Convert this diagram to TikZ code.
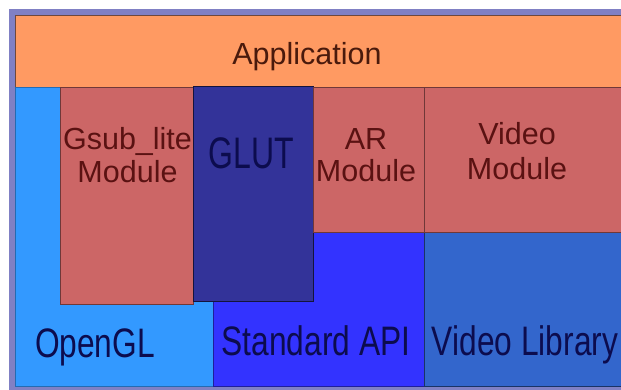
\documentclass[tikz,border=0pt]{standalone}
\usepackage{fontspec}
\setmainfont{Liberation Sans}
\definecolor{framec}{HTML}{8080C4}
\definecolor{appc}{HTML}{FF9A62}
\definecolor{oglc}{HTML}{3399FF}
\definecolor{modc}{HTML}{CC6666}
\definecolor{glutc}{HTML}{333399}
\definecolor{stdc}{HTML}{3333FF}
\definecolor{vlibc}{HTML}{3366CC}
\definecolor{modtxt}{HTML}{5A1212}
\definecolor{bluetxt}{HTML}{0C0C4E}
\definecolor{apptxt}{HTML}{4A1A0C}
\tikzset{
  block/.style={anchor=north west, inner sep=0pt, outer sep=0pt, draw=#1, line width=0.7pt},
  modlabel/.style={anchor=base, inner sep=0pt, text=modtxt, font=\fontsize{30.5}{33}\selectfont},
  bluelabel/.style={anchor=base, inner sep=0pt, text=bluetxt, font=\fontsize{31.7}{34}\selectfont},
}
\begin{document}
\begin{tikzpicture}[x=1pt,y=-1pt]
\useasboundingbox (0,0) rectangle (621,390);
% frame
\node[block=framec, fill=framec, minimum width=612pt, minimum height=381pt] (frame) at (9,9) {};
% application
\node[block=apptxt!80, fill=appc, minimum width=606pt, minimum height=72pt, line width=0.9pt] (app) at (15,15) {};
% lower layers
\node[block=oglc!70!black, fill=oglc, minimum width=198pt, minimum height=299pt] (ogl) at (15,87) {};
\node[block=stdc!60!black, fill=stdc, minimum width=211pt, minimum height=154pt] (std) at (213,232) {};
\node[block=vlibc!50!black, fill=vlibc, minimum width=197pt, minimum height=154pt] (vlib) at (424,232) {};
% modules
\node[block=modc!55!black, fill=modc, minimum width=133pt, minimum height=217pt] (gsub) at (60,87) {};
\node[block=glutc!40!black, fill=glutc, minimum width=120pt, minimum height=214pt, line width=1pt] (glut) at (193,87) {};
\node[block=modc!55!black, fill=modc, minimum width=111pt, minimum height=145pt] (ar) at (313,87) {};
\node[block=modc!55!black, fill=modc, minimum width=197pt, minimum height=145pt] (vmod) at (424,87) {};
% labels
\node[anchor=base, inner sep=0pt, text=apptxt, font=\fontsize{30.5}{33}\selectfont] (appt) at (307,65) {Application};
\node[modlabel] (gsubt1) at (127.5,150) {Gsub\_lite};
\node[modlabel] (gsubt2) at (127.5,183) {Module};
\node[anchor=base, inner sep=0pt, text=bluetxt, font=\fontsize{32}{34}\selectfont] (glutt) at (251,169) {\scalebox{1}[1.38]{GLUT}};
\node[modlabel] (art1) at (366,150) {AR};
\node[modlabel] (art2) at (366,182) {Module};
\node[modlabel] (vmodt1) at (517,145) {Video};
\node[modlabel] (vmodt2) at (517,180) {Module};
\node[bluelabel] (oglt) at (95,357) {\scalebox{1}[1.3]{OpenGL}};
\node[bluelabel] (stdt) at (316,355) {\scalebox{1}[1.3]{Standard API}};
\node[bluelabel] (vlibt) at (525,355) {\scalebox{1}[1.3]{Video Library}};
\end{tikzpicture}
\end{document}
